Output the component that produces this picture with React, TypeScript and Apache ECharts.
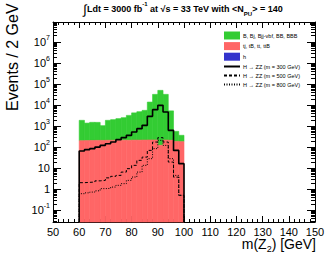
import React, { useEffect, useRef } from "react";
import * as echarts from "echarts";

// ---- data ----
const binStarts = [60, 62, 64, 66, 68, 70, 72, 74, 76, 78, 80, 82, 84, 86, 88, 90, 92, 94, 96, 98];
const BIN_WIDTH = 2;
const redValues = [205, 208, 210, 212, 212, 214, 214, 215, 216, 216, 218, 218, 220, 222, 222, 125, 220, 215, 190, 185];
const greenValues = [1700, 1200, 1320, 1310, 850, 1690, 1840, 2080, 2330, 3060, 4090, 4680, 5450, 13850, 32400, 50500, 32400, 5150, 380, 185];
const blueValues: number[] = [];
const h300 = [66, 77, 86, 102, 123, 148, 177, 230, 286, 368, 528, 766, 1100, 2940, 6130, 9800, 4710, 635, 71, 16.6];
const h500 = [2.07, 2.15, 2.22, 2.53, 2.67, 3.51, 4.14, 4.6, 6.6, 9.6, 13.8, 23.8, 34, 71, 177, 286, 177, 19.8, 3.8, 0.52];
const h800 = [0.62, 0.68, 0.74, 0.85, 1.08, 1.11, 1.28, 1.55, 1.86, 2.67, 3.84, 6.6, 13.8, 28.7, 86, 213, 123, 28.7, 4.6, 0.52];

const seriesNames = [
  "B, Bj, Bjj-vbf, BB, BBB",
  "tj, tB, tt, ttB",
  "h",
  "H \u2192 ZZ (m = 300 GeV)",
  "H \u2192 ZZ (m = 500 GeV)",
  "H \u2192 ZZ (m = 800 GeV)",
];

const yMajorTicks = [0.1, 1, 10, 100, 1e3, 1e4, 1e5, 1e6, 1e7];
const Y_MIN = 0.028;
const Y_MAX = 9e7;
const X_MIN = 50;
const X_MAX = 150;
const X_INTERVAL = 10;

const FONT = "'Liberation Sans', Arial, Helvetica, sans-serif";
const GREEN = "#33cc33";
const RED = "#ff6666";
const BLUE = "#3333cc";

function minorLogTicks(): number[] {
  const out: number[] = [];
  for (let k = -2; k <= 8; k++) {
    for (let m = 2; m <= 9; m++) {
      const v = parseFloat((m * Math.pow(10, k)).toPrecision(6));
      if (v > Y_MIN && v < Y_MAX) out.push(v);
    }
  }
  return out;
}

function stepPoints(vals: number[]): number[][] {
  const pts: number[][] = [[binStarts[0], Y_MIN]];
  vals.forEach((v, i) => pts.push([binStarts[i], v]));
  const last = binStarts[binStarts.length - 1] + BIN_WIDTH;
  pts.push([last, vals[vals.length - 1]]);
  pts.push([last, Y_MIN]);
  return pts;
}

function rectSeries(name: string, color: string, lows: number[], highs: number[]) {
  return {
    name,
    type: "custom",
    xAxisIndex: 0,
    yAxisIndex: 0,
    itemStyle: { color },
    z: 2,
    silent: true,
    data: highs.map((h, i) => [binStarts[i], lows[i], h]),
    renderItem: (params: any, api: any) => {
      const x0 = api.value(0);
      const lo = api.value(1);
      const hi = api.value(2);
      const p0 = api.coord([x0, hi]);
      const p1 = api.coord([x0 + BIN_WIDTH, lo]);
      return {
        type: "rect",
        shape: { x: p0[0], y: p0[1], width: p1[0] - p0[0], height: p1[1] - p0[1] },
        style: { fill: color, stroke: color, lineWidth: 0.6 },
      };
    },
  };
}

const hiddenSymbol = { color: "rgba(0,0,0,0)", borderWidth: 0, opacity: 0 };

export default function App() {
  const ref = useRef<HTMLDivElement>(null);
  useEffect(() => {
    if (!ref.current) return;
    const chart = echarts.init(ref.current, undefined, { renderer: "svg" });
    const minors = minorLogTicks();
    const totals = redValues.map((r, i) => r + greenValues[i]);
    const floor = redValues.map(() => Y_MIN);

    const axisLineStyle = { color: "#000", width: 1 };
    const yBase: any = {
      type: "log",
      logBase: 10,
      min: Y_MIN,
      max: Y_MAX,
      splitLine: { show: false },
      axisLine: { show: true, lineStyle: axisLineStyle },
    };
    const supFormatter = (v: number) => {
      const e = Math.round(Math.log10(v));
      if (e === 0) return "{b|1}";
      if (e === 1) return "{b|10}";
      return "{b|10}{s|" + e + "}";
    };
    const xBase: any = {
      type: "value",
      min: X_MIN,
      max: X_MAX,
      interval: X_INTERVAL,
      splitLine: { show: false },
      axisLine: { show: true, lineStyle: axisLineStyle },
      axisTick: { show: true, inside: true, length: 6, lineStyle: axisLineStyle },
      minorTick: { show: true, splitNumber: 5, length: 3, lineStyle: axisLineStyle },
    };

    chart.setOption({
      animation: false,
      backgroundColor: "#fff",
      grid: { left: 53, right: 17, top: 22, bottom: 35, containLabel: false },
      legend: {
        orient: "vertical",
        left: 218,
        top: 26.5,
        itemWidth: 16,
        itemHeight: 8,
        itemGap: 2.6,
        selectedMode: false,
        textStyle: { fontSize: 5.5, color: "#000", fontFamily: FONT, padding: [0, 0, 0, -2] },
        data: [
          { name: seriesNames[0], icon: "rect" },
          { name: seriesNames[1], icon: "rect" },
          { name: seriesNames[2], icon: "rect" },
          { name: seriesNames[3], itemStyle: hiddenSymbol },
          { name: seriesNames[4], itemStyle: hiddenSymbol },
          { name: seriesNames[5], itemStyle: hiddenSymbol },
        ],
      },
      xAxis: [
        {
          ...xBase,
          position: "bottom",
          axisLabel: { show: true, fontSize: 11, color: "#000", fontFamily: FONT, margin: 4 },
        },
        { ...xBase, position: "top", axisLabel: { show: false } },
      ],
      yAxis: [
        {
          ...yBase,
          position: "left",
          axisTick: { show: true, inside: true, length: 8, customValues: yMajorTicks, lineStyle: axisLineStyle },
          axisLabel: {
            show: true,
            customValues: yMajorTicks,
            formatter: supFormatter,
            margin: 3,
            color: "#000",
            fontFamily: FONT,
            rich: {
              b: { fontSize: 11, lineHeight: 16, fontFamily: FONT, color: "#000" },
              s: { fontSize: 7, lineHeight: 8, verticalAlign: "top", fontFamily: FONT, color: "#000" },
            },
          },
        },
        {
          ...yBase,
          position: "left",
          axisLine: { show: false },
          axisTick: { show: true, inside: true, length: 4, customValues: minors, lineStyle: axisLineStyle },
          axisLabel: { show: false },
        },
        {
          ...yBase,
          position: "right",
          axisTick: { show: true, inside: true, length: 8, customValues: yMajorTicks, lineStyle: axisLineStyle },
          axisLabel: { show: false },
        },
        {
          ...yBase,
          position: "right",
          axisLine: { show: false },
          axisTick: { show: true, inside: true, length: 4, customValues: minors, lineStyle: axisLineStyle },
          axisLabel: { show: false },
        },
      ],
      series: [
        rectSeries(seriesNames[0], GREEN, redValues, totals),
        rectSeries(seriesNames[1], RED, floor, redValues),
        rectSeries(seriesNames[2], BLUE, blueValues, blueValues),
        {
          name: seriesNames[3],
          type: "line",
          step: "end",
          symbol: "none",
          z: 5,
          color: "#000",
          lineStyle: { color: "#000", width: 1.6 },
          data: stepPoints(h300),
        },
        {
          name: seriesNames[4],
          type: "line",
          step: "end",
          symbol: "none",
          z: 4,
          color: "#000",
          lineStyle: { color: "#000", width: 1, type: [3, 2] },
          data: stepPoints(h500),
        },
        {
          name: seriesNames[5],
          type: "line",
          step: "end",
          symbol: "none",
          z: 4,
          color: "#000",
          lineStyle: { color: "#000", width: 1, type: [1, 1.5] },
          data: stepPoints(h800),
        },
      ],
      graphic: [
        {
          type: "text",
          x: 183,
          y: 9,
          style: {
            text: "{i|\u222B}{b|Ldt = 3000 fb}{s|-1}{b| at \u221As = 33 TeV with <N}{u|PU}{b|> = 140}",
            textAlign: "center",
            textVerticalAlign: "middle",
            fill: "#000",
            rich: {
              i: { fontSize: 13, fontFamily: FONT, lineHeight: 16, fill: "#000" },
              b: { fontSize: 9, fontWeight: "bold", fontFamily: FONT, lineHeight: 12, fill: "#000" },
              s: { fontSize: 6, fontWeight: "bold", fontFamily: FONT, lineHeight: 7, verticalAlign: "top", fill: "#000" },
              u: { fontSize: 6, fontWeight: "bold", fontFamily: FONT, lineHeight: 7, verticalAlign: "bottom", fill: "#000" },
            },
          },
        },
        {
          type: "text",
          x: 12,
          y: 111,
          rotation: Math.PI / 2,
          style: {
            text: "Events / 2 GeV",
            fontSize: 16,
            fontFamily: FONT,
            fill: "#000",
            textAlign: "left",
            textVerticalAlign: "middle",
          },
        },
        {
          type: "text",
          x: 316,
          y: 244,
          style: {
            text: "{b|m(Z}{u|2}{b|) [GeV]}",
            textAlign: "right",
            textVerticalAlign: "middle",
            fill: "#000",
            rich: {
              b: { fontSize: 14, fontFamily: FONT, lineHeight: 18, fill: "#000" },
              u: { fontSize: 9, fontFamily: FONT, lineHeight: 10, verticalAlign: "bottom", fill: "#000" },
            },
          },
        },
      ],
    });
    return () => chart.dispose();
  }, []);
  return (
    <div
      ref={ref}
      style={{ position: "fixed", left: 0, top: 0, width: 332, height: 257 }}
    />
  );
}
